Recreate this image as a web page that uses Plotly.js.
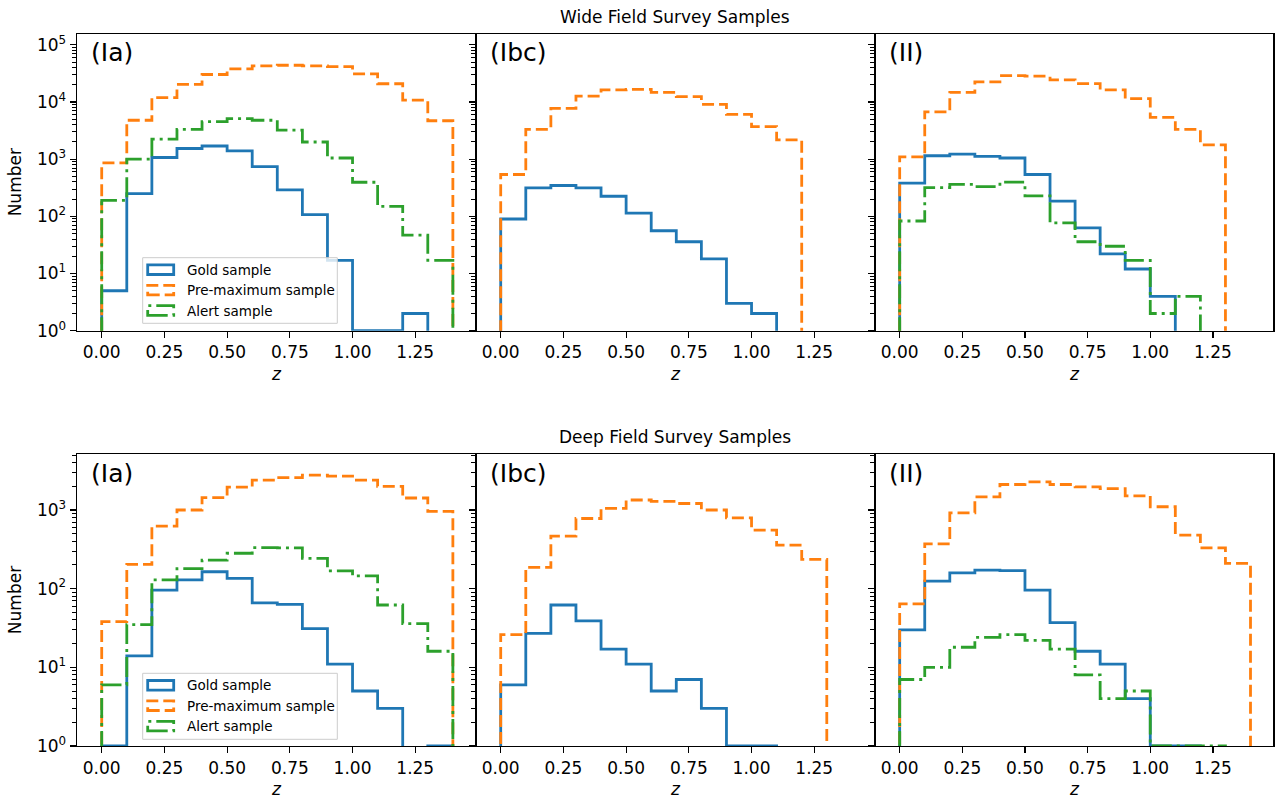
<!DOCTYPE html>
<html><head><meta charset="utf-8">
<script src="https://cdn.plot.ly/plotly-3.0.1.min.js"></script>
<style>html,body{margin:0;padding:0;background:#fff}#chart{width:1283px;height:799px}</style>
</head><body><div id="chart"></div>
<script>
// ---------- data ----------
const binEdges = [0, 0.1, 0.2, 0.3, 0.4, 0.5, 0.6, 0.7, 0.8, 0.9, 1.0, 1.1, 1.2, 1.3, 1.4];
const xTickVals = [0, 0.25, 0.5, 0.75, 1.0, 1.25];
const xTickText = ['0.00', '0.25', '0.50', '0.75', '1.00', '1.25'];
const panelLabels = ['(Ia)', '(Ibc)', '(II)'];
const rowTitles = ['Wide Field Survey Samples', 'Deep Field Survey Samples'];
const seriesNames = ['Gold sample', 'Pre-maximum sample', 'Alert sample'];

// Wide field (counts per bin of width 0.1 in z; 0 = empty bin)
const wideIaGold    = [5, 250, 1070, 1540, 1700, 1400, 740, 290, 107, 17, 1, 1, 2, 0];
const wideIaPremax  = [860, 4800, 11900, 20300, 30300, 38000, 43000, 44000, 43000, 41700, 31000, 20900, 10800, 4700];
const wideIaAlert   = [190, 1000, 2240, 3330, 4560, 5140, 4800, 3220, 2000, 1050, 395, 150, 47, 17];
const wideIbcGold   = [90, 316, 347, 316, 225, 114, 56, 36, 18, 3, 2, 0, 0, 0];
const wideIbcPremax = [540, 3330, 7770, 12700, 16300, 16600, 14800, 12400, 9100, 6100, 3700, 2180, 0, 0];
const wideIIGold    = [380, 1150, 1230, 1120, 1050, 540, 185, 63, 22, 12, 4, 0, 0, 0];
const wideIIPremax  = [1100, 6700, 14800, 22500, 29000, 28300, 24500, 21000, 16300, 11500, 5370, 3330, 1780, 0];
const wideIIAlert   = [83, 318, 363, 332, 398, 228, 77, 36, 30, 17, 2, 4, 0, 0];

// Deep field
const deepIaGold    = [1, 14, 96, 129, 164, 135, 66, 63, 31, 11, 5, 3, 0, 1];
const deepIaPremax  = [38, 204, 624, 1000, 1440, 1950, 2400, 2580, 2770, 2700, 2400, 2000, 1420, 960];
const deepIaAlert   = [6, 35, 129, 180, 230, 282, 333, 330, 243, 168, 145, 62, 36, 16];
const deepIbcGold   = [6, 27, 62, 39, 17, 11, 5, 7, 3, 1, 1, 0, 0, 0];
const deepIbcPremax = [26, 186, 465, 780, 1050, 1340, 1290, 1210, 1000, 795, 556, 357, 235, 0];
const deepIIGold    = [30, 125, 159, 172, 170, 96, 37, 16, 11, 4, 1, 1, 0, 0];
const deepIIPremax  = [64, 370, 920, 1470, 2110, 2280, 2110, 1970, 1870, 1510, 1100, 480, 330, 210];
const deepIIAlert   = [7, 10, 18, 24, 26, 22, 17, 8, 4, 5, 1, 1, 1, 0];

// ---------- layout helpers ----------
const W = 1283, H = 799;
const px = x => x / W;
const py = y => 1 - y / H;
const FONT = 'DejaVu Sans, Liberation Sans, sans-serif';
const styles = [
  {color: '#1f77b4', dash: 'solid'},
  {color: '#ff7f0e', dash: '12px,5px'},
  {color: '#2ca02c', dash: '20px,5px,3px,5px'}
];
const LW = 2.8;
const TICKFONT = 17;

const colX = [[76.7, 475.7], [475.7, 874.7], [874.7, 1273.3]];
const rowY = [[34, 330.7], [454.3, 746]];
const rowYTop = [5.19, 3.708];
const xRange = [-0.0997, 1.491];

const panels = [
  {row: 0, col: 0, series: [wideIaGold, wideIaPremax, wideIaAlert]},
  {row: 0, col: 1, series: [wideIbcGold, wideIbcPremax, null]},
  {row: 0, col: 2, series: [wideIIGold, wideIIPremax, wideIIAlert]},
  {row: 1, col: 0, series: [deepIaGold, deepIaPremax, deepIaAlert]},
  {row: 1, col: 1, series: [deepIbcGold, deepIbcPremax, null]},
  {row: 1, col: 2, series: [deepIIGold, deepIIPremax, deepIIAlert]}
];

const FLOOR = 1e-3; // empty bins drop below the log axis, like matplotlib
function stepXY(counts) {
  const xs = [binEdges[0]], ys = [FLOOR];
  counts.forEach((c, i) => {
    const v = c > 0 ? c : FLOOR;
    xs.push(binEdges[i], binEdges[i + 1]);
    ys.push(v, v);
  });
  xs.push(binEdges[binEdges.length - 1]);
  ys.push(FLOOR);
  return {xs, ys};
}

const traces = [];
const layout = {
  width: W, height: H,
  margin: {l: 0, r: 0, t: 0, b: 0},
  paper_bgcolor: '#fff', plot_bgcolor: '#fff',
  showlegend: false,
  font: {family: FONT, color: '#000', size: 16.5},
  annotations: [], shapes: []
};

function minorVals(topExp) {
  const v = [];
  for (let e = 0; e < Math.ceil(topExp); e++)
    for (let m = 2; m <= 9; m++) { const t = m * Math.pow(10, e); if (Math.log10(t) <= topExp) v.push(t); }
  return v;
}

panels.forEach((p, idx) => {
  const k = idx + 1;
  const sx = k === 1 ? '' : String(k);
  p.series.forEach((s, j) => {
    if (!s) return;
    const st = stepXY(s);
    traces.push({
      x: st.xs, y: st.ys, type: 'scatter', mode: 'lines',
      name: seriesNames[j],
      line: {color: styles[j].color, width: LW, dash: styles[j].dash},
      xaxis: 'x' + sx, yaxis: 'y' + sx, hoverinfo: 'skip'
    });
  });
  const xd = colX[p.col], yd = rowY[p.row];
  const topExp = rowYTop[p.row];
  const majors = [];
  for (let e = 0; e <= Math.floor(topExp); e++) majors.push(Math.pow(10, e));
  layout['xaxis' + sx] = {
    domain: [px(xd[0]), px(xd[1])], range: xRange, anchor: 'y' + sx,
    tickvals: xTickVals, ticktext: xTickText,
    ticks: 'outside', ticklen: 6, tickwidth: 1.2, tickcolor: '#000',
    showline: true, mirror: true, linecolor: '#000', linewidth: 1.2,
    showgrid: false, zeroline: false,
    tickfont: {family: FONT, size: TICKFONT, color: '#000'}
  };
  const yax = {
    type: 'log', domain: [py(yd[1]), py(yd[0])], range: [0, topExp], anchor: 'x' + sx,
    tickvals: majors,
    showticklabels: p.col === 0,
    ticks: 'outside', ticklen: 6, tickwidth: 1.2, tickcolor: '#000',
    minor: {tickvals: minorVals(topExp), ticks: 'outside', ticklen: 3.3, tickwidth: 1, tickcolor: '#000', showgrid: false},
    showline: true, mirror: true, linecolor: '#000', linewidth: 1.2,
    showgrid: false, zeroline: false,
    tickfont: {family: FONT, size: TICKFONT, color: '#000'}
  };
  if (p.col === 0) yax.ticktext = majors.map((v, e) => '10<sup>' + e + '</sup>');
  layout['yaxis' + sx] = yax;
  // panel label
  layout.annotations.push({
    xref: 'paper', yref: 'paper', x: px(xd[0] + 12), y: py(yd[0] + 19),
    xanchor: 'left', yanchor: 'middle', showarrow: false,
    text: panelLabels[p.col], font: {family: FONT, size: 25, color: '#000'}
  });
  // x axis label
  layout.annotations.push({
    xref: 'paper', yref: 'paper', x: px((xd[0] + xd[1]) / 2), y: py(yd[1] + 43),
    xanchor: 'center', yanchor: 'middle', showarrow: false,
    text: '<i>z</i>', font: {family: FONT, size: 17, color: '#000'}
  });
});

// row titles and y labels
[0, 1].forEach(r => {
  layout.annotations.push({
    xref: 'paper', yref: 'paper', x: px((colX[0][0] + colX[2][1]) / 2), y: py(rowY[r][0] - 17.5),
    xanchor: 'center', yanchor: 'middle', showarrow: false,
    text: rowTitles[r], font: {family: FONT, size: 17, color: '#000'}
  });
  layout.annotations.push({
    xref: 'paper', yref: 'paper', x: px(15), y: py((rowY[r][0] + rowY[r][1]) / 2),
    xanchor: 'center', yanchor: 'middle', showarrow: false, textangle: -90,
    text: 'Number', font: {family: FONT, size: 17, color: '#000'}
  });
});

// legends (matplotlib-style patch handles) in the Ia panels
const legendBoxes = [[142.7, 257.7, 337.3, 323.3], [142.7, 673.3, 337.3, 739.3]];
legendBoxes.forEach(b => {
  layout.shapes.push({
    type: 'rect', xref: 'paper', yref: 'paper',
    x0: px(b[0]), x1: px(b[2]), y0: py(b[3]), y1: py(b[1]),
    fillcolor: 'rgba(255,255,255,0.8)', line: {color: '#cccccc', width: 1}, layer: 'above'
  });
  seriesNames.forEach((nm, j) => {
    const cy = b[1] + 12 + j * 20.4;
    layout.shapes.push({
      type: 'rect', xref: 'paper', yref: 'paper',
      x0: px(b[0] + 5), x1: px(b[0] + 31), y0: py(cy + 4.8), y1: py(cy - 4.8),
      fillcolor: 'rgba(0,0,0,0)', line: {color: styles[j].color, width: LW, dash: styles[j].dash}, layer: 'above'
    });
    layout.annotations.push({
      xref: 'paper', yref: 'paper', x: px(b[0] + 42), y: py(cy),
      xanchor: 'left', yanchor: 'middle', showarrow: false,
      text: nm, font: {family: FONT, size: 13.5, color: '#000'}
    });
  });
});

Plotly.newPlot('chart', traces, layout, {displayModeBar: false, staticPlot: true});
</script>
</body></html>
